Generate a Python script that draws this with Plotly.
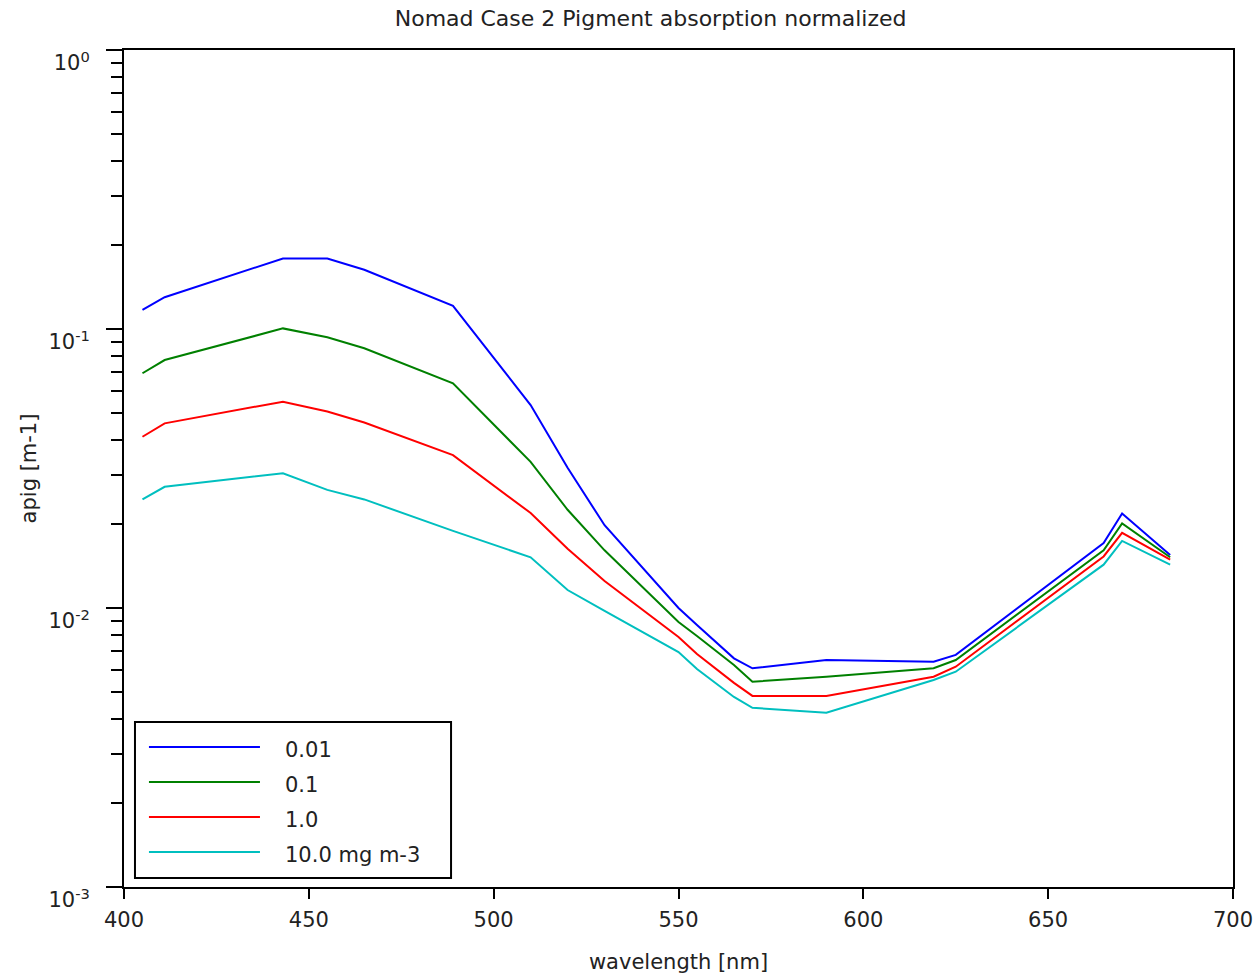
import plotly.graph_objects as go

# NOMAD bands (nm)
wavelengths = [405, 411, 443, 455, 465, 489, 510, 520, 530, 550, 555,
               565, 570, 590, 619, 625, 665, 670, 683]

# normalized pigment absorption for each chlorophyll level
apig_001 = [0.117, 0.130, 0.179, 0.179, 0.163, 0.121, 0.0534, 0.0318, 0.0198,
            0.0100, 0.00869, 0.00660, 0.00608, 0.00651, 0.00642, 0.00679,
            0.0171, 0.0218, 0.0155]
apig_01 = [0.0694, 0.0774, 0.1005, 0.0934, 0.0853, 0.0639, 0.0334, 0.0225,
           0.0161, 0.00891, 0.00794, 0.00625, 0.00544, 0.00567, 0.00608,
           0.00651, 0.0161, 0.0201, 0.0152]
apig_1 = [0.0411, 0.0459, 0.0549, 0.0506, 0.0462, 0.0353, 0.0219, 0.0163,
          0.0125, 0.00787, 0.00684, 0.00539, 0.00484, 0.00484, 0.00567,
          0.00616, 0.0153, 0.0186, 0.0149]
apig_10 = [0.0245, 0.0272, 0.0304, 0.0265, 0.0245, 0.0189, 0.0152, 0.0116,
           0.00976, 0.00695, 0.00604, 0.00480, 0.00439, 0.00421, 0.00552,
           0.00591, 0.0143, 0.0174, 0.0143]

series_names = ["0.01", "0.1", "1.0", "10.0 mg m-3"]
series_values = [apig_001, apig_01, apig_1, apig_10]
series_colors = ["#0000ff", "#008000", "#ff0000", "#00bfbf"]

x_ticks = [400, 450, 500, 550, 600, 650, 700]
y_ticks = [0.001, 0.01, 0.1, 1]
y_ticktext = ["10<sup>-3</sup>", "10<sup>-2</sup>", "10<sup>-1</sup>", "10<sup>0</sup>"]
y_minor = [k * 10.0 ** e for e in (-3, -2, -1) for k in range(2, 10)]

FONT = "DejaVu Sans, Liberation Sans, Arial, sans-serif"
TEXT_COLOR = "#222222"

fig = go.Figure()
for name, vals, color in zip(series_names, series_values, series_colors):
    fig.add_trace(go.Scatter(x=wavelengths, y=vals, mode="lines", name=name,
                             line=dict(color=color, width=2),
                             showlegend=False))

# boxed legend in the lower-left corner of the plot area
leg_x0, leg_x1 = 0.0099, 0.2949
leg_y0, leg_y1 = 0.0108, 0.1971
line_x0, line_x1, text_x = 0.0225, 0.1226, 0.1434
row_top, row_step = 0.1673, 0.0418

shapes = [dict(type="rect", xref="paper", yref="paper",
               x0=leg_x0, x1=leg_x1, y0=leg_y0, y1=leg_y1,
               line=dict(color="black", width=2), fillcolor="white", layer="above")]
annotations = []
for i, (name, color) in enumerate(zip(series_names, series_colors)):
    yy = row_top - i * row_step
    shapes.append(dict(type="line", xref="paper", yref="paper",
                       x0=line_x0, x1=line_x1, y0=yy, y1=yy,
                       line=dict(color=color, width=2), layer="above"))
    annotations.append(dict(xref="paper", yref="paper", x=text_x, y=yy,
                            xanchor="left", yanchor="middle", yshift=-3,
                            text=name, showarrow=False,
                            font=dict(family=FONT, size=21, color=TEXT_COLOR)))

fig.update_layout(
    width=1256, height=974,
    margin=dict(l=124, r=23, t=50, b=87, autoexpand=False),
    paper_bgcolor="white", plot_bgcolor="white",
    title=dict(text="Nomad Case 2 Pigment absorption normalized",
               x=0.518, xref="container", xanchor="center",
               y=1 - 18 / 974, yref="container", yanchor="middle",
               font=dict(family=FONT, size=22, color=TEXT_COLOR)),
    shapes=shapes,
    annotations=annotations,
    showlegend=False,
)

fig.update_xaxes(
    range=[400, 700], tickvals=x_ticks, automargin=False,
    showgrid=False, zeroline=False,
    showline=True, linecolor="black", linewidth=2, mirror=True,
    ticks="outside", ticklen=10, tickwidth=2, tickcolor="black",
    ticklabelstandoff=3,
    tickfont=dict(family=FONT, size=21, color=TEXT_COLOR),
    title=dict(text="wavelength [nm]", standoff=26,
               font=dict(family=FONT, size=21, color=TEXT_COLOR)),
)

fig.update_yaxes(
    type="log", range=[-3, 0], automargin=False,
    tickvals=y_ticks, ticktext=y_ticktext,
    showgrid=False, zeroline=False,
    showline=True, linecolor="black", linewidth=2, mirror=True,
    ticks="outside", ticklen=16, tickwidth=2, tickcolor="black",
    ticklabelstandoff=12, ticklabelshift=13,
    minor=dict(tickvals=y_minor, ticks="outside", ticklen=11,
               tickwidth=2, tickcolor="black", showgrid=False),
    tickfont=dict(family=FONT, size=21, color=TEXT_COLOR),
    title=dict(text="apig [m-1]", standoff=6,
               font=dict(family=FONT, size=21, color=TEXT_COLOR)),
)

fig.write_html("out.html")
